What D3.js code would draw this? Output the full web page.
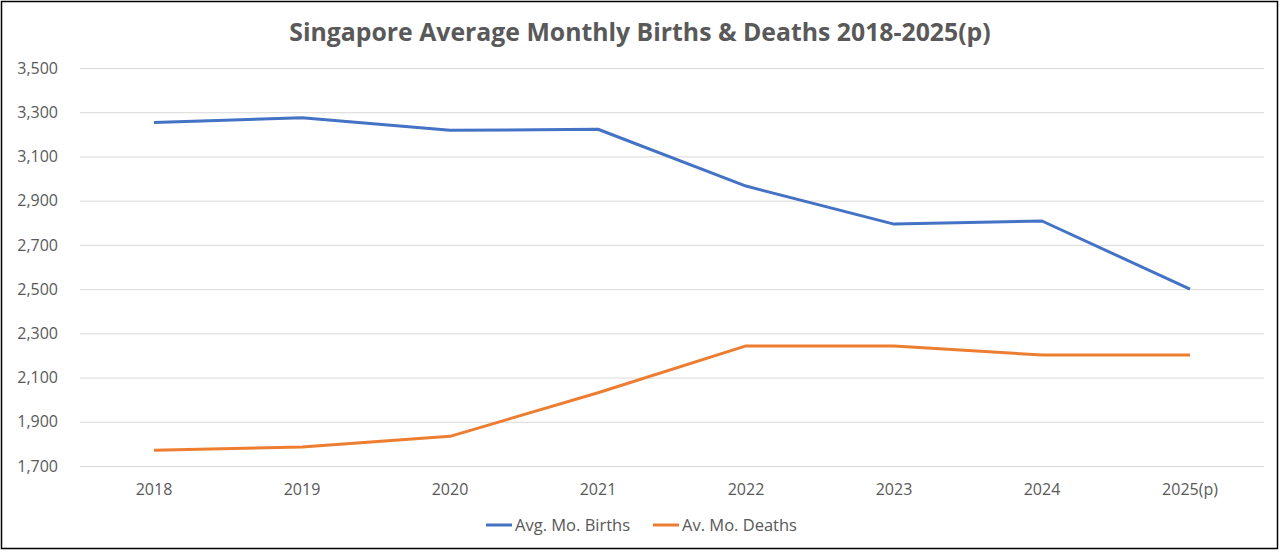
<!DOCTYPE html>
<html>
<head>
<meta charset="utf-8">
<script src="https://cdn.jsdelivr.net/npm/d3@7"></script>
<style>
  html, body { margin: 0; padding: 0; background: #fff; }
  svg { display: block; font-family: 'Open Sans', 'Liberation Sans', sans-serif; }
</style>
</head>
<body>
<div id="chart"></div>
<script>
'use strict';

var years = ['2018', '2019', '2020', '2021', '2022', '2023', '2024', '2025(p)'];
var births = [3254, 3275, 3218, 3223, 2966, 2794, 2808, 2500];
var deaths = [1771, 1786, 1834, 2031, 2243, 2243, 2202, 2202];
var yTicks = [1700, 1900, 2100, 2300, 2500, 2700, 2900, 3100, 3300, 3500];
var seriesNames = ['Avg. Mo. Births', 'Av. Mo. Deaths'];
var seriesColors = ['#4472C4', '#ED7D31'];

var w = 1280, h = 552;
var plotLeft = 80, plotRight = 1264, plotTop = 68, plotBottom = 466;
var textColor = '#595959';

var svg = d3.select('#chart').append('svg').attr('width', w).attr('height', h);

// outer frame
svg.append('rect')
    .attr('x', 1.5).attr('y', 1.5).attr('width', w - 4).attr('height', h - 5)
    .style('fill', '#fff').style('stroke', '#000').style('stroke-width', 1.5);

var x = d3.scaleBand().domain(years).range([plotLeft, plotRight]);
var y = d3.scaleLinear().domain([1700, 3500]).range([plotBottom, plotTop]);

// grid + y labels
var yAxis = d3.axisLeft(y).tickValues(yTicks).tickSize(-(plotRight - plotLeft)).tickPadding(22)
    .tickFormat(d3.format(','));
var gy = svg.append('g').attr('transform', 'translate(' + plotLeft + ',0)').call(yAxis);
gy.select('.domain').remove();
gy.selectAll('.tick line').style('stroke', '#d9d9d9').style('stroke-width', 1);
gy.selectAll('.tick text').style('fill', textColor).style('font-size', '16px')
    .attr('font-family', "'Open Sans', sans-serif");

// x labels
var xAxis = d3.axisBottom(x).tickSize(0).tickPadding(18);
var gx = svg.append('g').attr('transform', 'translate(0,' + plotBottom + ')').call(xAxis);
gx.select('.domain').remove();
gx.selectAll('.tick text').style('fill', textColor).style('font-size', '16px')
    .attr('font-family', "'Open Sans', sans-serif");

// lines
var line = d3.line()
    .x(function(d, i) { return x(years[i]) + x.bandwidth() / 2; })
    .y(function(d) { return y(d); });

[births, deaths].forEach(function(s, i) {
    svg.append('path').datum(s)
        .attr('d', line)
        .style('fill', 'none')
        .style('stroke', seriesColors[i])
        .style('stroke-width', 3)
        .style('stroke-linejoin', 'round');
});

// title
svg.append('text')
    .attr('x', 640).attr('y', 41)
    .attr('text-anchor', 'middle')
    .style('font-size', '24.8px').style('font-weight', 'bold')
    .style('fill', textColor)
    .text('Singapore Average Monthly Births & Deaths 2018-2025(p)');

// legend
var legendX = [486, 653];
seriesNames.forEach(function(name, i) {
    var lg = svg.append('g').attr('transform', 'translate(' + legendX[i] + ',525)');
    lg.append('line').attr('x1', 0).attr('x2', 26).attr('y1', 0).attr('y2', 0)
        .style('stroke', seriesColors[i]).style('stroke-width', 3);
    lg.append('text').attr('x', 29).attr('y', 6)
        .style('font-size', '16.5px').style('fill', textColor)
        .text(name);
});
</script>
</body>
</html>
